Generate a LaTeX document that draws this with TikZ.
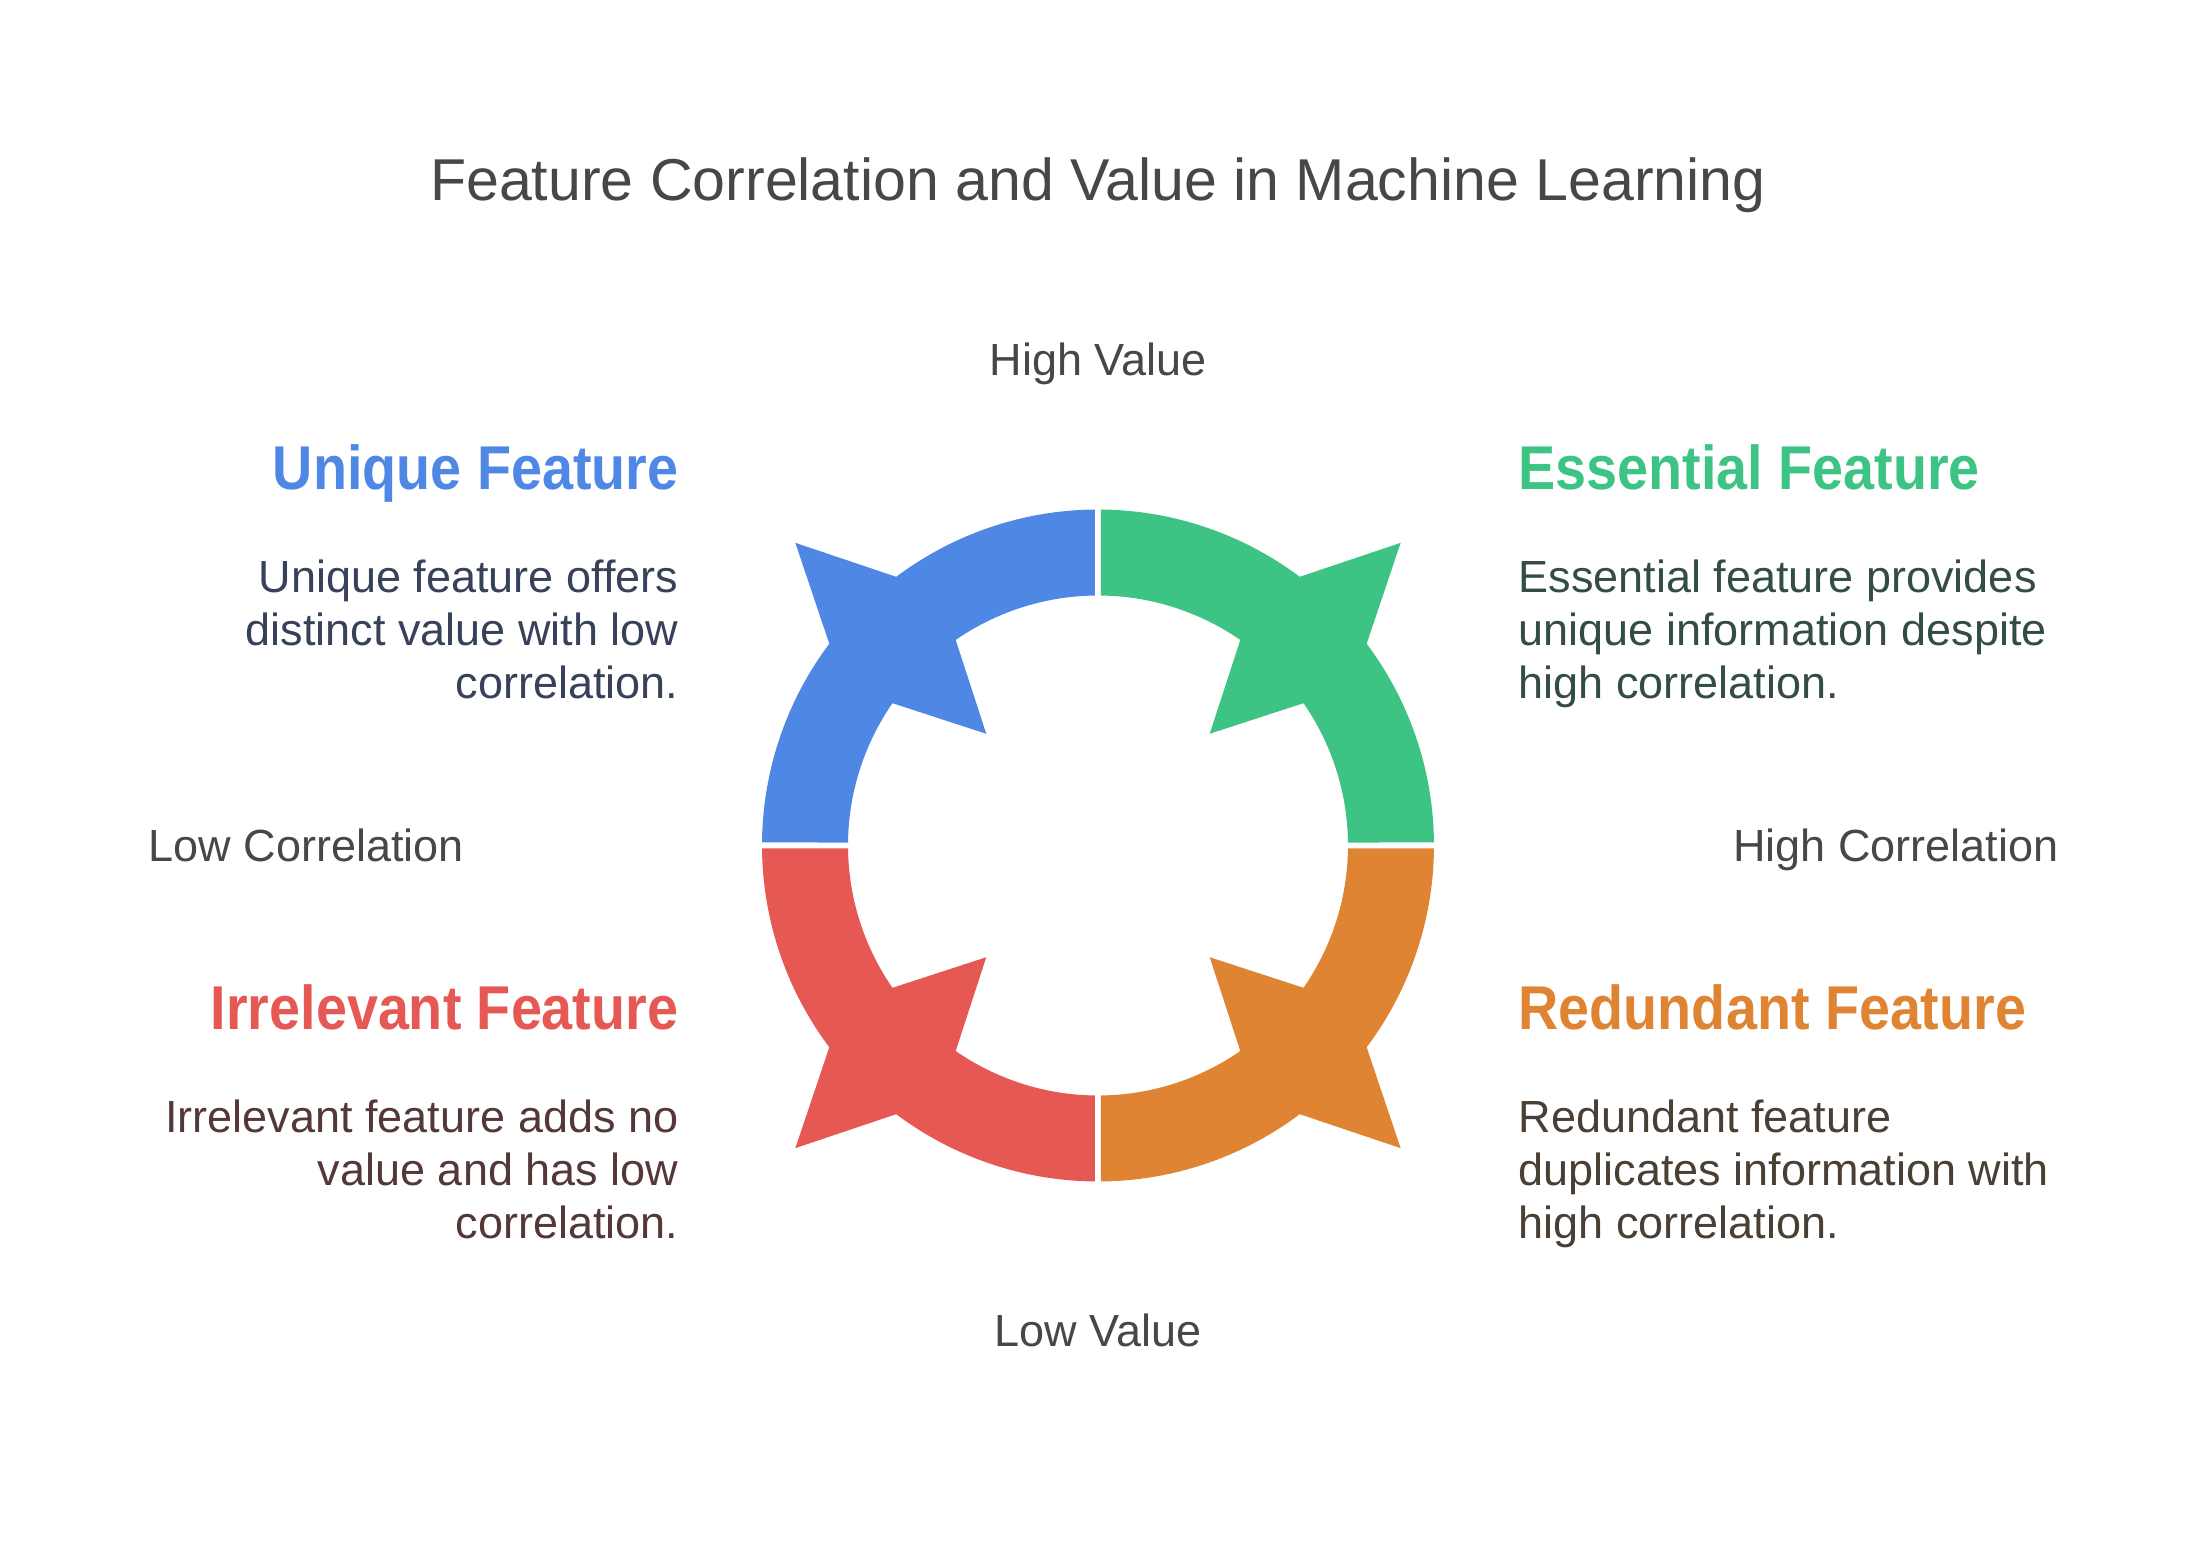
\documentclass[tikz,border=0pt]{standalone}
\usepackage{fontspec}
\setmainfont{Liberation Sans}
\newfontfamily\headfont{Liberation Sans}[FakeStretch=0.9]
\usepackage{xcolor}
\definecolor{uniqueblue}{HTML}{4E88E4}
\definecolor{essentialgreen}{HTML}{3DC484}
\definecolor{redundantorange}{HTML}{DE8432}
\definecolor{irrelevantred}{HTML}{E55853}
\definecolor{labelgray}{HTML}{474747}
\definecolor{uniquetext}{HTML}{37425A}
\definecolor{essentialtext}{HTML}{344D44}
\definecolor{irrelevanttext}{HTML}{543838}
\definecolor{redundanttext}{HTML}{4A3F35}

\tikzset{
  charttitle/.style={font=\fontsize{16.8pt}{20pt}\selectfont, text=labelgray, inner sep=0},
  axislabel/.style={font=\fontsize{12.8pt}{15pt}\selectfont, text=labelgray, inner sep=0},
  heading/.style={font=\headfont\bfseries\fontsize{17.6pt}{21pt}\selectfont, inner sep=0},
  desc/.style={font=\fontsize{12.8pt}{15.17pt}\selectfont, inner sep=0},
}

\begin{document}
\begin{tikzpicture}[x=0.01cm,y=0.01cm]
  \useasboundingbox (-1098,-702.5) rectangle (1098,845.5);
  \pgfmathsetmacro{\ro}{336}
  \pgfmathsetmacro{\ri}{250}
  \pgfmathsetmacro{\rtip}{428}
  \pgfmathsetmacro{\rin}{158}
  \pgfmathsetmacro{\dout}{8.1}
  \pgfmathsetmacro{\din}{10.3}
  \pgfmathsetmacro{\go}{asin(3/\ro)}
  \pgfmathsetmacro{\gi}{asin(3/\ri)}

  % ring, one quadrant per feature
  \foreach \a/\col in {90/uniqueblue, 0/essentialgreen, 270/redundantorange, 180/irrelevantred}{
    \pgfmathsetmacro{\m}{\a+45}
    \fill[\col] (\a+\go:\ro) arc[start angle=\a+\go, end angle=\m-\dout, radius=\ro]
      -- (\m:\rtip) -- (\m+\dout:\ro)
      arc[start angle=\m+\dout, end angle=\a+90-\go, radius=\ro]
      -- (\a+90-\gi:\ri)
      arc[start angle=\a+90-\gi, end angle=\m+\din, radius=\ri]
      -- (\m:\rin) -- (\m-\din:\ri)
      arc[start angle=\m-\din, end angle=\a+\gi, radius=\ri] -- cycle;
  }

  \node[charttitle, anchor=base] (title) at (0,644.5) {Feature Correlation and Value in Machine Learning};

  \node[axislabel, anchor=base] (highval) at (0,469.5) {High Value};
  \node[axislabel, anchor=base] (lowval) at (0,-501.2) {Low Value};
  \node[axislabel, anchor=base west] (lowcorr) at (-950,-16.2) {Low Correlation};
  \node[axislabel, anchor=base east] (highcorr) at (961,-16.2) {High Correlation};

  \node[heading, text=uniqueblue, anchor=base east] (unique) at (-419,355.5) {Unique Feature};
  \node[heading, text=essentialgreen, anchor=base west] (essential) at (420,355.5) {Essential Feature};
  \node[heading, text=irrelevantred, anchor=base east] (irrelevant) at (-419,-184) {Irrelevant Feature};
  \node[heading, text=redundantorange, anchor=base west] (redundant) at (420,-184) {Redundant Feature};

  \node[desc, text=uniquetext, align=right, anchor=north east] (uniquedesc) at (-419,286.8)
    {Unique feature offers\\distinct value with low\\correlation.};
  \node[desc, text=essentialtext, align=left, anchor=north west] (essentialdesc) at (420,286.8)
    {Essential feature provides\\unique information despite\\high correlation.};
  \node[desc, text=irrelevanttext, align=right, anchor=north east] (irrelevantdesc) at (-419,-253.2)
    {Irrelevant feature adds no\\value and has low\\correlation.};
  \node[desc, text=redundanttext, align=left, anchor=north west] (redundantdesc) at (420,-253.2)
    {Redundant feature\\duplicates information with\\high correlation.};
\end{tikzpicture}
\end{document}
